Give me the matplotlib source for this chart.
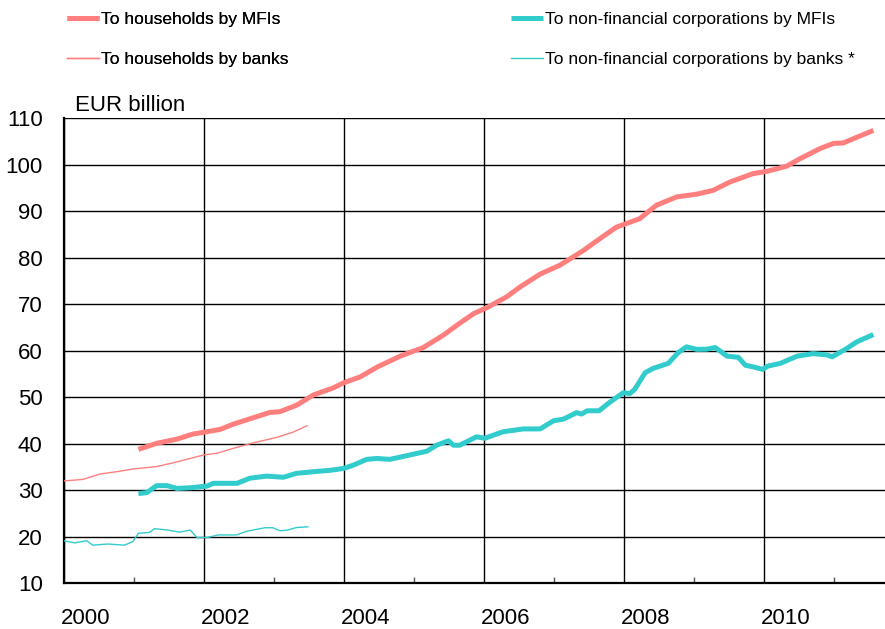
import numpy as np
import matplotlib.pyplot as plt

plt.rcParams['font.family'] = ['Liberation Sans', 'DejaVu Sans']

# Datos (año decimal, EUR billion)
hh_mfi_x = [2001.07, 2001.33, 2001.62, 2001.85, 2002.05, 2002.24, 2002.42, 2002.71, 2002.95,
            2003.09, 2003.33, 2003.57, 2003.85, 2004.0, 2004.24, 2004.48, 2004.81, 2005.14,
            2005.43, 2005.62, 2005.86, 2006.05, 2006.33, 2006.52, 2006.81, 2007.09, 2007.43,
            2007.66, 2007.9, 2008.23, 2008.47, 2008.76, 2009.05, 2009.28, 2009.52, 2009.85,
            2010.05, 2010.33, 2010.52, 2010.81, 2011.0, 2011.14, 2011.33, 2011.57]
hh_mfi_y = [38.8, 40.1, 41.0, 42.1, 42.6, 43.1, 44.2, 45.6, 46.75,
            46.9, 48.3, 50.5, 52.0, 53.1, 54.4, 56.5, 58.85, 60.7,
            63.4, 65.5, 68.0, 69.3, 71.6, 73.7, 76.5, 78.4, 81.6,
            84.1, 86.6, 88.4, 91.3, 93.1, 93.7, 94.5, 96.3, 98.1,
            98.6, 99.7, 101.3, 103.5, 104.6, 104.7, 105.9, 107.4]

hh_bank_x = [2000.0, 2000.28, 2000.52, 2000.76, 2001.0, 2001.33, 2001.62, 2001.85,
             2002.0, 2002.19, 2002.42, 2002.71, 2003.05, 2003.28, 2003.48]
hh_bank_y = [32.0, 32.35, 33.5, 34.0, 34.6, 35.1, 36.1, 37.0,
             37.6, 37.95, 39.0, 40.2, 41.4, 42.5, 43.9]

nfc_mfi_x = [2001.07, 2001.19, 2001.33, 2001.48, 2001.62, 2001.81, 2002.05, 2002.14, 2002.48,
             2002.66, 2002.9, 2003.14, 2003.33, 2003.57, 2003.81, 2004.0, 2004.14, 2004.33,
             2004.48, 2004.66, 2004.95, 2005.19, 2005.33, 2005.5, 2005.57, 2005.66, 2005.9,
             2006.02, 2006.28, 2006.57, 2006.81, 2007.0, 2007.14, 2007.33, 2007.4, 2007.48,
             2007.65, 2007.81, 2008.0, 2008.09, 2008.16, 2008.31, 2008.42, 2008.64, 2008.78,
             2008.9, 2009.05, 2009.19, 2009.31, 2009.48, 2009.64, 2009.74, 2009.85, 2009.99,
             2010.06, 2010.24, 2010.48, 2010.71, 2010.91, 2010.98, 2011.19, 2011.33, 2011.57]
nfc_mfi_y = [29.3, 29.5, 31.0, 31.0, 30.4, 30.55, 30.9, 31.5, 31.5,
             32.6, 33.05, 32.8, 33.65, 34.0, 34.3, 34.7, 35.4, 36.65,
             36.85, 36.65, 37.6, 38.4, 39.7, 40.65, 39.7, 39.7, 41.5,
             41.2, 42.6, 43.2, 43.2, 44.95, 45.3, 46.7, 46.4, 47.1,
             47.1, 49.0, 51.0, 50.8, 51.7, 55.3, 56.2, 57.3, 59.6,
             60.85, 60.3, 60.35, 60.7, 58.85, 58.6, 56.9, 56.55, 56.0,
             56.7, 57.3, 58.85, 59.4, 59.1, 58.7, 60.5, 61.9, 63.5]

nfc_bank_x = [2000.0, 2000.16, 2000.33, 2000.42, 2000.63, 2000.87, 2000.99, 2001.07,
              2001.23, 2001.3, 2001.49, 2001.66, 2001.81, 2001.91, 2002.07, 2002.21,
              2002.47, 2002.62, 2002.88, 2002.99, 2003.09, 2003.2, 2003.33, 2003.49]
nfc_bank_y = [19.15, 18.7, 19.15, 18.2, 18.45, 18.2, 18.95, 20.75,
              20.95, 21.75, 21.45, 21.0, 21.45, 19.8, 19.9, 20.4,
              20.4, 21.2, 21.95, 21.95, 21.3, 21.45, 22.0, 22.15]

years = [2000, 2002, 2004, 2006, 2008, 2010]
yticks = [10, 20, 30, 40, 50, 60, 70, 80, 90, 100, 110]

rojo = '#FF7F7F'
cian = '#33CCCC'

fig = plt.figure(figsize=(8.85, 6.29), dpi=100)
W, H = 885, 629
ax = fig.add_axes([63.5 / W, (H - 583.3) / H, 1 - 63.5 / W, (583.3 - 118.3) / H])

l1, = ax.plot(hh_mfi_x, hh_mfi_y, color=rojo, lw=3.6, solid_capstyle='butt', zorder=4)
l2, = ax.plot(hh_bank_x, hh_bank_y, color=rojo, lw=1.0, zorder=4)
l3, = ax.plot(nfc_mfi_x, nfc_mfi_y, color=cian, lw=3.6, solid_capstyle='butt', zorder=4)
l4, = ax.plot(nfc_bank_x, nfc_bank_y, color=cian, lw=1.0, zorder=4)

ax.set_xlim(2000, 2000 + (W - 63.5) / 70.0)
ax.set_ylim(10, 110)

# rejilla
ax.set_xticks(years)
ax.set_xticks(np.arange(2001, 2012, 2), minor=True)
ax.set_yticks(yticks)
ax.grid(True, which='major', color='black', lw=1.0)
ax.set_axisbelow(True)
ax.tick_params(axis='x', which='major', length=0, labelbottom=False)
ax.tick_params(axis='x', which='minor', direction='in', length=4, width=1, color='#555555')
ax.tick_params(axis='y', length=0, pad=15, labelsize=16)
for t in ax.get_yticklabels():
    t.set_verticalalignment('center_baseline')
for s in ['top', 'right']:
    ax.spines[s].set_visible(False)
ax.spines['left'].set_linewidth(1.6)
ax.spines['bottom'].set_linewidth(1.6)

# etiquetas de años desplazadas a la derecha de la línea
for yr in years:
    ax.text(yr + 0.31, -0.075, str(yr), transform=ax.get_xaxis_transform(),
            ha='center', va='center', fontsize=16, clip_on=False)

fig.text(75 / W, (H - 111) / H, 'EUR billion', fontsize=16, ha='left', va='baseline')

leg1 = fig.legend([l1, l2], ['To households by MFIs', 'To households by banks'],
                  loc='upper left', bbox_to_anchor=(67 / W, (H - 12) / H), frameon=False,
                  fontsize=12.5, handlelength=1.85, handletextpad=0.1, labelspacing=1.42,
                  borderpad=0, borderaxespad=0)
leg2 = fig.legend([l3, l4], ['To non-financial corporations by MFIs',
                             'To non-financial corporations by banks *'],
                  loc='upper left', bbox_to_anchor=(511 / W, (H - 12) / H), frameon=False,
                  fontsize=12.5, handlelength=1.85, handletextpad=0.1, labelspacing=1.42,
                  borderpad=0, borderaxespad=0)
fig.add_artist(leg1)

plt.savefig('out.png', dpi=100)
